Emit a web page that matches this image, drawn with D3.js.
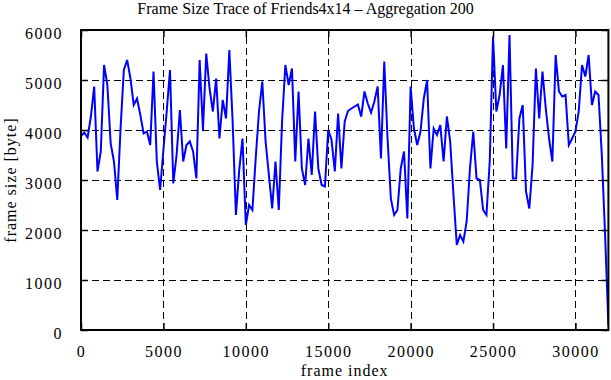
<!DOCTYPE html>
<html>
<head>
<meta charset="utf-8">
<script src="https://cdn.jsdelivr.net/npm/d3@7"></script>
<style>
  body { margin: 0; background: #fff; }
  text { font-family: 'Liberation Serif', 'Times New Roman', serif; fill: #000; }
</style>
</head>
<body>
<script>
// frame size trace, one value per aggregation window of 200 frames
const aggregation = 200
const frameSizes = [
  3880, 3950, 3850, 4270, 4870, 3170, 3570, 5300, 4900, 3730,
  3370, 2600, 4030, 5200, 5400, 5030, 4500, 4630, 4300, 3930,
  3970, 3700, 5170, 3370, 2800, 3600, 4370, 5200, 2930, 3500,
  4400, 3370, 3700, 3770, 3570, 3030, 5400, 4000, 5530, 4830,
  4370, 5030, 3830, 4600, 4230, 5600, 4170, 2300, 3200, 3830,
  2100, 2500, 2400, 3430, 4370, 4970, 3770, 3100, 2430, 3370,
  2400, 4170, 5300, 4900, 5230, 3370, 4770, 3230, 2900, 3830,
  3100, 4370, 3230, 2900, 2870, 4000, 3800, 3170, 4330, 3230,
  4170, 4380, 4430, 4470, 4510, 4270, 4770, 4530, 4350, 4570,
  4870, 3430, 5370, 3830, 2630, 2300, 2400, 3230, 3570, 2230,
  4870, 4030, 3700, 3970, 4630, 5000, 3230, 4030, 3900, 4100,
  3370, 4270, 3770, 2700, 1700, 1900, 1770, 2170, 3230, 3970,
  3030, 3000, 2400, 2300, 3370, 5870, 4370, 4700, 5300, 3630,
  5900, 3030, 3030, 4230, 4500, 2770, 2430, 3300, 5230, 4230,
  5170, 4430, 3830, 3370, 5500, 4770, 4670, 4700, 3700, 3830,
  3970, 4370, 5300, 5070, 5500, 4500, 4770, 4700, 3500, 1900,
  100
]
const xTicks = [0, 5000, 10000, 15000, 20000, 25000, 30000]
const yTicks = [0, 1000, 2000, 3000, 4000, 5000, 6000]
const xDomain = [0, 32000]
const yDomain = [0, 6000]

const title = 'Frame Size Trace of Friends4x14 \u2013 Aggregation 200'
const xLabel = 'frame index'
const yLabel = 'frame size [byte]'

const width = 611
const height = 380
const margin = { left: 81, right: 2.6, top: 30, bottom: 50 }
const tickLen = 7

const svg = d3.select('body').append('svg')
  .attr('width', width)
  .attr('height', height)

svg.append('rect').attr('width', width).attr('height', height).attr('fill', '#fff')

const x = d3.scaleLinear().domain(xDomain).range([margin.left, width - margin.right])
const y = d3.scaleLinear().domain(yDomain).range([height - margin.bottom, margin.top])

const [x0, x1] = x.range()
const [y0, y1] = y.range()

// dashed grid, skipping the lines that sit on the border
const grid = svg.append('g')
  .attr('stroke', '#000')
  .attr('stroke-width', 1)
  .attr('stroke-dasharray', '7,4')
  .attr('shape-rendering', 'crispEdges')

grid.selectAll('.gx').data(xTicks.filter(d => d > xDomain[0] && d < xDomain[1]))
  .join('line')
  .attr('x1', d => Math.round(x(d)) + 0.5).attr('x2', d => Math.round(x(d)) + 0.5)
  .attr('y1', y0).attr('y2', y1)

grid.selectAll('.gy').data(yTicks.filter(d => d > yDomain[0] && d < yDomain[1]))
  .join('line')
  .attr('y1', d => Math.round(y(d)) + 0.5).attr('y2', d => Math.round(y(d)) + 0.5)
  .attr('x1', x0).attr('x2', x1)

// the trace
svg.append('clipPath').attr('id', 'plotclip')
  .append('rect').attr('x', x0).attr('y', y1).attr('width', x1 - x0).attr('height', y0 - y1)

const line = d3.line()
  .x((d, i) => x(i * aggregation))
  .y(d => y(d))

svg.append('path')
  .datum(frameSizes)
  .attr('clip-path', 'url(#plotclip)')
  .attr('fill', 'none')
  .attr('stroke', '#0000ff')
  .attr('stroke-width', 2)
  .attr('stroke-linejoin', 'miter')
  .attr('d', line)

// axes: gnuplot style ticks pointing inwards on all four sides
const axisStyle = g => {
  g.select('.domain').remove()
  g.selectAll('.tick line').attr('stroke', '#000').attr('stroke-width', 1.5)
  g.selectAll('.tick text')
    .style('font-family', "'Liberation Serif', serif")
    .style('font-size', '16px')
    .style('letter-spacing', '1.5px')
    .attr('fill', '#000')
}

svg.append('g')
  .attr('transform', `translate(0,${y0})`)
  .call(d3.axisBottom(x).tickValues(xTicks).tickSize(-tickLen).tickPadding(16).tickFormat(d3.format('d')))
  .call(axisStyle)

svg.append('g')
  .attr('transform', `translate(0,${y1})`)
  .call(d3.axisTop(x).tickValues(xTicks).tickSize(-tickLen).tickFormat(''))
  .call(axisStyle)

svg.append('g')
  .attr('transform', `translate(${x0},0)`)
  .call(d3.axisLeft(y).tickValues(yTicks).tickSize(-tickLen).tickPadding(18).tickFormat(d3.format('d')))
  .call(axisStyle)
  .selectAll('.tick text').attr('dy', '0.5em')

svg.append('g')
  .attr('transform', `translate(${x1},0)`)
  .call(d3.axisRight(y).tickValues(yTicks).tickSize(-tickLen).tickFormat(''))
  .call(axisStyle)

// plot border
svg.append('rect')
  .attr('x', x0).attr('y', y1)
  .attr('width', x1 - x0).attr('height', y0 - y1)
  .attr('fill', 'none')
  .attr('stroke', '#000')
  .attr('stroke-width', 2)

svg.append('text')
  .attr('x', width / 2)
  .attr('y', 14)
  .attr('text-anchor', 'middle')
  .style('font-size', '16px')
  .text(title)

svg.append('text')
  .attr('x', (x0 + x1) / 2)
  .attr('y', 376)
  .attr('text-anchor', 'middle')
  .style('font-size', '16px')
  .style('letter-spacing', '1px')
  .text(xLabel)

svg.append('text')
  .attr('transform', `translate(16,${(y0 + y1) / 2}) rotate(-90)`)
  .attr('text-anchor', 'middle')
  .style('font-size', '16px')
  .style('letter-spacing', '1px')
  .text(yLabel)
</script>
</body>
</html>
